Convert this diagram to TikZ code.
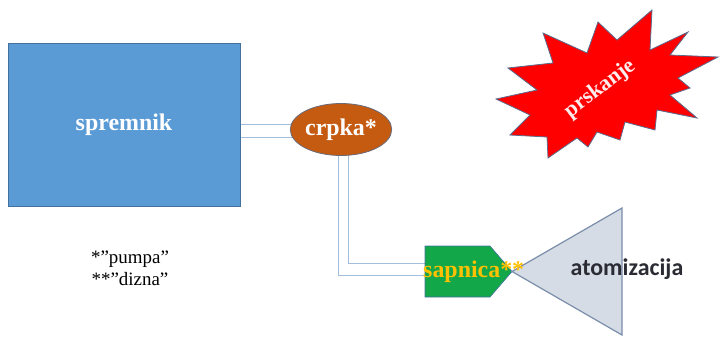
\documentclass[tikz,border=0pt]{standalone}
\usepackage{fontspec}
\setmainfont{Liberation Serif}
\newfontfamily\labelsans{Carlito}
\usetikzlibrary{shapes.geometric,backgrounds}

\definecolor{tankfill}{HTML}{5B9BD5}
\definecolor{tankline}{HTML}{41719C}
\definecolor{pumpfill}{HTML}{C55A11}
\definecolor{pumpline}{HTML}{6A6A78}
\definecolor{nozzlefill}{HTML}{12A84A}
\definecolor{nozzleline}{HTML}{41719C}
\definecolor{gold}{HTML}{FFC000}
\definecolor{conefill}{HTML}{D6DCE5}
\definecolor{coneline}{HTML}{7A8DAA}
\definecolor{burstline}{HTML}{5A6B8C}
\definecolor{pipeblue}{HTML}{A3BEDD}
\definecolor{darktext}{HTML}{2A2B33}
\definecolor{palepink}{HTML}{FDEDED}

\tikzset{
  tank/.style={rectangle, fill=tankfill, draw=tankline, line width=0.8bp,
    minimum width=232bp, minimum height=163bp, inner sep=0pt,
    text=white, font=\fontsize{24}{28}\selectfont\bfseries},
  pump/.style={ellipse, fill=pumpfill, draw=pumpline, line width=0.8bp,
    minimum width=100bp, minimum height=52bp, inner sep=0pt,
    text=white, font=\fontsize{24}{28}\selectfont\bfseries},
  pipe/.style={draw=pipeblue, line width=1bp},
  nozzleshape/.style={fill=nozzlefill, draw=nozzleline, line width=0.6bp},
  coneshape/.style={fill=conefill, draw=coneline, line width=1.2bp},
  burst/.style={fill=red, draw=burstline, line width=0.8bp, line join=miter},
  note/.style={align=center, inner sep=0pt, font=\fontsize{19}{22}\selectfont}
}

\begin{document}
\begin{tikzpicture}[x=1bp, y=-1bp]
\useasboundingbox (0,0) rectangle (720,337);

% tank and pump
\node[tank] (tank) at (124,124.5) {spremnik};
\node[pump] (pump) at (341,129.5) {crpka*};

% nozzle body
\path[nozzleshape] (425,246) -- (490,246) -- (512,271.5) -- (490,297) -- (425,297) -- cycle;
\coordinate (nozzleIn1) at (425,263);
\coordinate (nozzleIn2) at (425,275);
\coordinate (nozzleTip) at (512,271.5);

% spray cone
\path[coneshape] (nozzleTip) -- (622,208) -- (622,335) -- cycle;
\node[text=darktext, font=\labelsans\fontsize{24}{28}\selectfont\bfseries, inner sep=0pt]
  (cone) at (627,269) {atomizacija};

\node[text=gold, font=\fontsize{24}{28}\selectfont\bfseries, anchor=west, inner sep=0pt]
  (nozzle) at (423,271.5) {sapnica**};

% double pipes
\coordinate (tankOut1) at (240,124);
\coordinate (tankOut2) at (240,137);
\coordinate (pumpOut1) at (338,131);
\coordinate (pumpOut2) at (348,131);
\begin{scope}[on background layer]
  \draw[pipe] (tankOut1) -- (tankOut1 -| pump.center);
  \draw[pipe] (tankOut2) -- (tankOut2 -| pump.center);
  \draw[pipe] (pumpOut2) |- (nozzleIn1);
  \draw[pipe] (pumpOut1) |- (nozzleIn2);
\end{scope}

% spray burst
\path[burst] (543,33) -- (587,53) -- (598,22) -- (617,40) -- (652,10) -- (650,50)
  -- (688,32) -- (670,55) -- (718,57) -- (678,78) -- (690,88) -- (670,95)
  -- (697,118) -- (657,110) -- (655,130) -- (625,122) -- (620,140) -- (597,132)
  -- (588,147) -- (577,138) -- (548,158) -- (547,137) -- (510,135) -- (530,115)
  -- (496,99) -- (537,90) -- (508,68) -- (553,63) -- cycle;
\node[text=palepink, font=\fontsize{22}{26}\selectfont\bfseries, rotate=37, inner sep=0pt]
  (spray) at (600,89) {prskanje};

% footnotes
\node[note] (notes) at (130,268) {*”pumpa”\\**”dizna”};
\end{tikzpicture}
\end{document}
